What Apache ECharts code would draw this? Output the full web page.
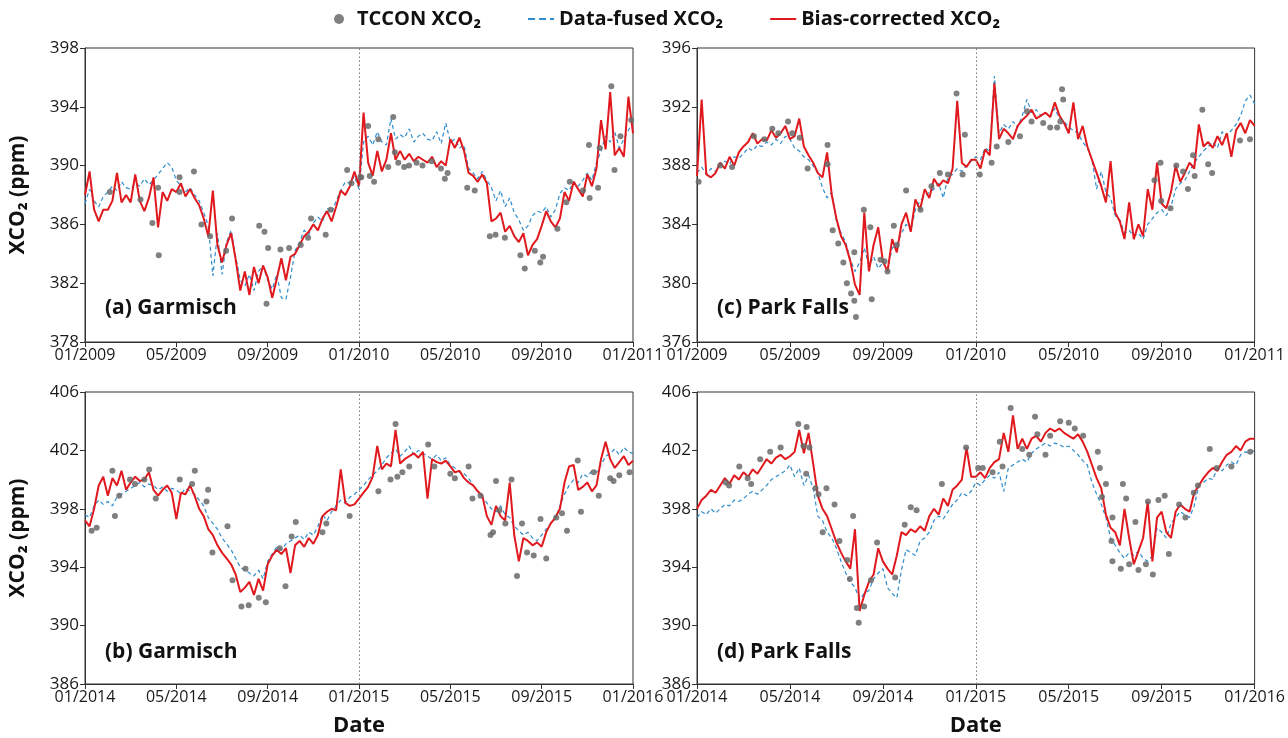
<!DOCTYPE html>
<html>
<head>
<meta charset="utf-8">
<script src="https://cdn.jsdelivr.net/npm/echarts@6/dist/echarts.min.js"></script>
<style>
html,body{margin:0;padding:0;background:#fff;}
#chart{width:1288px;height:738px;}
</style>
</head>
<body>
<div id="chart"></div>
<script>
// ---- Tick labels ----
const xTicksTop = ['01/2009','05/2009','09/2009','01/2010','05/2010','09/2010','01/2011'];
const xTicksBottom = ['01/2014','05/2014','09/2014','01/2015','05/2015','09/2015','01/2016'];
const yTicksA = [378,382,386,390,394,398];
const yTicksC = [376,380,384,388,392,396];
const yTicksBD = [386,390,394,398,402,406];
const monthTicks = [0,4,8,12,16,20,24];
const STEP = 0.2; // months between line samples (~6 days)

// ---- (a) Garmisch 2009-2010 ----
const aBias = [
388.0,389.6,387.0,386.2,387.0, 387.0,387.6,389.5,387.5,388.0, 387.5,389.4,387.6,386.9,387.8,
389.2,385.8,388.2,387.6,388.4, 388.2,388.8,387.9,388.4,387.8, 387.3,386.4,385.2,388.3,384.6,
383.4,384.6,385.4,383.6,381.5, 382.8,381.2,383.1,382.0,383.2, 382.4,381.0,382.3,383.7,382.2,
383.8,384.0,384.6,385.2,385.5, 386.0,385.6,386.4,386.9,386.2, 387.2,388.3,388.0,388.6,389.6,
388.6,393.6,390.2,389.3,391.0, 389.6,390.4,392.2,390.4,391.0, 390.4,390.8,390.3,390.6,390.4,
390.2,390.6,389.9,390.3,390.0, 391.8,391.2,391.9,391.0,389.5, 389.3,388.9,389.4,388.8,386.2,
386.4,386.8,385.5,385.9,385.2, 384.8,385.4,383.9,384.6,385.0, 385.9,386.9,386.2,385.8,386.4,
388.2,387.6,388.9,388.4,387.9, 389.4,388.6,389.8,393.1,391.1, 395.0,390.7,391.2,390.6,394.7,
392.2];
const aFused = [
387.4,388.4,387.6,387.2,387.9, 388.2,388.6,388.3,388.9,388.5, 388.4,388.8,388.6,389.1,388.7,
389.0,389.4,389.8,390.2,389.9, 389.0,388.6,388.2,388.5,388.0, 387.6,386.8,385.9,382.5,385.4,
382.6,384.8,385.6,383.8,382.2, 381.8,382.6,381.5,382.8,383.2, 382.2,381.6,382.6,381.0,380.9,
382.4,384.2,384.8,385.6,385.3, 386.1,386.5,386.2,387.1,386.8, 387.6,388.3,388.9,388.8,389.3,
388.4,391.6,392.0,391.4,392.3, 391.6,391.4,393.2,391.8,392.1, 391.9,392.5,391.6,392.0,392.2,
391.8,391.7,392.3,391.5,392.9, 391.6,391.8,391.2,391.4,389.8, 389.5,389.1,389.6,389.0,388.5,
387.6,388.3,387.2,387.8,386.8, 386.3,385.6,385.9,386.6,386.9, 386.8,387.2,386.5,387.0,388.1,
388.5,388.3,388.9,388.6,389.0, 389.5,389.0,390.2,391.0,392.0, 391.6,392.3,391.2,391.8,392.4,
393.0];
const aTccon = [
[1.09,388.2],[2.43,387.7],[2.95,386.1],[3.23,383.9],[3.2,388.5],[4.14,389.2],[4.14,388.2],[4.77,389.6],
[5.1,386.0],[5.48,385.2],[6.18,384.2],[6.44,386.4],[7.63,385.9],[7.86,385.5],[8.02,384.4],[7.95,380.6],
[8.56,384.3],[8.94,384.4],[9.45,384.6],[9.77,385.1],[9.9,386.4],[10.54,385.3],[10.76,387.0],[11.48,389.7],
[11.67,388.8],[12.06,389.2],[12.1,389.2],[12.4,392.7],[12.47,389.3],[12.66,388.9],[12.85,391.8],[13.28,389.9],
[13.5,393.3],[13.57,390.9],[13.72,390.2],[13.98,389.9],[14.19,390.0],[14.52,390.2],[14.78,390.0],[15.18,390.3],
[15.59,389.8],[15.76,389.1],[15.88,389.5],[16.74,388.5],[17.07,388.3],[17.73,385.2],[17.98,385.3],[18.39,385.1],
[19.07,383.9],[19.26,383.0],[19.7,384.2],[19.94,383.4],[20.06,383.8],[20.69,385.7],[21.08,387.5],[21.23,388.9],
[21.81,388.3],[22.1,387.8],[22.07,391.4],[22.47,388.5],[22.54,391.2],[23.05,395.4],[23.19,389.7],[23.45,392.0],
[23.92,393.1]];

// ---- (c) Park Falls 2009-2010 ----
const cBias = [
387.3,392.5,387.4,387.2,387.5, 388.2,387.8,388.6,388.0,388.9, 389.3,389.6,390.2,389.5,389.8,
389.7,390.4,389.9,390.2,390.7, 389.8,390.0,391.2,389.3,388.7, 388.2,387.5,387.2,388.9,386.0,
384.4,383.2,382.6,381.5,379.9, 379.2,384.8,380.8,382.6,383.8, 381.5,380.8,383.0,382.1,384.0,
384.8,383.5,385.7,385.0,386.4, 385.8,387.1,386.6,387.0,386.8, 387.8,392.4,388.2,387.9,388.4,
388.4,387.8,389.1,388.7,393.6, 389.8,390.5,390.2,389.8,390.7, 391.1,391.4,391.8,391.2,391.4,
391.6,391.3,392.3,391.4,390.9, 390.2,392.3,389.8,390.7,389.3, 388.4,387.5,386.6,385.5,388.3,
384.8,384.2,383.0,385.5,383.0, 384.0,383.2,386.4,385.0,388.2, 385.4,385.1,386.2,388.0,386.9,
387.5,388.2,387.8,390.8,389.3, 389.6,389.2,390.0,389.4,390.2, 388.6,390.4,390.9,390.2,391.1,
390.7];
const cFused = [
387.5,387.9,387.4,387.8,387.6, 388.0,388.3,388.1,388.6,388.5, 388.8,389.2,389.0,389.4,389.3,
389.6,389.4,389.8,389.5,390.0, 389.8,389.2,389.0,388.6,388.4, 388.0,387.5,386.5,385.8,386.2,
384.2,383.4,382.8,381.6,380.8, 381.4,382.4,381.2,381.8,381.0, 381.4,380.9,382.4,382.6,383.4,
384.0,383.6,385.0,385.6,385.9, 386.2,386.4,386.8,385.8,387.2, 387.4,387.8,387.6,388.0,388.3,
388.6,388.4,389.2,389.0,394.1, 390.2,390.8,390.5,391.0,390.6, 391.4,392.5,391.6,391.8,391.4,
391.6,391.3,391.9,391.2,391.0, 390.6,390.4,390.2,389.6,389.2, 388.4,386.4,387.6,386.2,385.8,
384.6,384.3,383.4,383.6,383.2, 383.4,383.0,384.0,384.4,384.8, 385.0,384.6,385.2,386.4,386.8,
387.0,387.6,388.2,388.6,389.0, 389.3,389.6,389.2,390.3,390.0, 390.4,390.8,391.4,392.4,392.8,
392.2];
const cTccon = [
[0.07,386.9],[1.0,388.0],[1.51,387.9],[2.45,390.0],[2.9,389.8],[3.24,390.5],[3.5,390.2],[3.92,391.0],[4.1,390.2],
[4.42,389.9],[4.76,387.8],[5.62,389.4],[5.62,388.1],[5.84,383.6],[6.08,382.7],[6.3,381.4],[6.45,380.0],
[6.77,382.1],[6.63,379.3],[6.77,378.8],[6.84,377.7],[7.18,385.0],[7.52,378.9],[7.46,383.8],[7.9,381.6],
[8.07,381.5],[8.2,380.8],[8.47,383.9],[8.6,382.6],[9.0,386.3],[9.62,385.0],[10.09,386.6],[10.45,387.5],
[10.8,387.4],[11.17,392.9],[11.43,387.4],[11.53,390.1],[12.17,387.4],[12.68,388.2],[12.9,389.3],[13.4,389.6],
[13.9,390.0],[14.2,391.7],[14.4,391.0],[14.9,390.9],[15.2,390.6],[15.5,390.6],[15.71,393.2],[15.76,392.5],
[15.64,391.0],[19.69,387.0],[19.95,388.2],[19.98,385.6],[20.38,385.1],[20.63,388.0],[20.92,387.6],[21.13,386.4],
[21.35,388.7],[21.42,387.3],[21.75,391.8],[22.0,388.1],[22.17,387.5],[23.37,389.7],[23.8,389.8]];

// ---- (b) Garmisch 2014-2015 ----
const bBias = [
397.2,396.8,398.0,399.6,400.2, 398.9,400.1,399.6,400.6,399.3, 399.8,400.2,399.9,400.0,400.5,
399.3,398.9,399.3,399.6,399.1, 397.3,399.1,399.0,399.6,398.9, 398.0,397.5,396.6,396.2,395.5,
395.0,394.6,394.2,393.5,392.3, 392.6,393.0,392.1,393.2,392.4, 394.2,394.8,395.2,394.9,395.3,
393.6,395.5,395.8,395.4,396.0, 395.6,396.2,397.5,397.8,398.0, 397.9,400.7,398.4,398.2,398.3,
398.7,399.1,399.5,400.2,402.3, 400.7,401.1,400.9,403.4,401.1, 401.4,401.6,401.8,401.5,401.9,
398.7,401.4,401.2,401.1,401.3, 400.9,400.5,400.6,400.1,399.8, 399.6,399.2,398.9,397.5,396.9,
398.2,397.5,397.2,399.8,396.2, 394.4,396.0,395.8,395.5,395.7, 395.4,396.4,397.0,397.4,398.0,
399.8,400.9,401.0,399.3,399.5, 399.8,399.2,399.6,401.4,402.6, 401.4,400.8,401.2,401.6,401.0,
401.3];
const bFused = [
397.6,397.4,398.2,398.6,398.3, 398.5,398.2,398.8,399.0,399.2, 399.4,399.6,399.8,399.5,399.7,
399.6,399.3,399.5,399.2,399.4, 399.3,399.0,399.4,399.2,399.0, 398.6,398.2,397.4,397.0,396.6,
396.0,395.6,395.2,394.6,394.0, 393.8,393.6,393.4,393.8,393.2, 394.4,394.9,395.4,395.2,395.6,
395.8,396.0,396.2,395.9,396.4, 396.2,396.8,397.6,397.2,397.8, 398.2,398.6,398.4,398.8,399.0,
399.3,399.6,400.0,400.3,400.6, 401.0,401.5,401.8,402.1,401.6, 401.9,402.3,401.7,402.0,401.8,
401.6,401.4,401.7,401.3,401.5, 401.0,400.8,400.5,400.4,400.1, 399.6,399.2,398.8,398.4,398.0,
397.8,398.2,397.6,397.4,396.8, 396.5,396.2,396.4,396.0,395.8, 396.2,396.6,397.0,397.3,398.2,
399.0,399.6,400.0,399.8,400.4, 400.2,400.6,400.5,401.0,401.6, 401.8,402.1,401.7,402.2,401.9,
401.8];
const bTccon = [
[0.29,396.5],[0.51,396.7],[1.2,400.6],[1.31,397.5],[1.5,398.9],[1.97,400.0],[2.19,399.7],[2.6,400.0],
[2.81,400.7],[3.1,398.7],[4.15,400.0],[4.81,400.6],[4.69,399.7],[5.39,399.3],[5.32,398.5],[6.24,396.8],
[5.58,395.0],[6.46,393.1],[7.03,393.9],[6.85,391.3],[7.17,391.4],[7.61,391.9],[7.92,391.6],[8.53,395.3],
[8.78,392.7],[9.05,396.1],[9.23,397.1],[10.4,396.4],[10.57,397.0],[11.59,397.5],[12.85,399.2],[13.38,400.0],
[13.6,403.8],[13.68,400.2],[13.9,400.5],[14.2,400.9],[15.03,402.4],[15.3,400.9],[16.0,400.4],[16.2,400.1],
[16.8,400.9],[16.97,398.7],[17.32,398.9],[17.76,396.2],[17.87,396.4],[18.0,399.9],[18.15,397.9],[18.41,397.0],
[18.68,400.0],[18.92,393.4],[19.14,397.0],[19.36,395.0],[19.65,394.8],[19.95,397.3],[20.2,394.6],[20.64,397.4],
[20.89,397.7],[21.11,396.5],[21.58,401.3],[21.72,397.8],[22.28,400.5],[22.5,398.9],[23.0,400.1],[23.15,399.9],
[23.4,400.3],[23.85,400.5]];

// ---- (d) Park Falls 2014-2015 ----
const dBias = [
398.0,398.6,398.9,399.3,399.1, 399.6,400.1,399.7,400.3,400.0, 400.5,400.2,400.7,400.4,400.9,
401.4,401.1,401.5,401.7,401.4, 401.6,401.9,403.4,401.8,403.2, 401.1,398.9,398.0,397.5,396.6,
395.7,395.0,394.4,393.9,396.6, 391.0,392.1,393.0,393.5,395.3, 394.4,393.9,393.5,394.8,396.4,
396.2,396.6,396.4,396.8,396.5, 397.5,398.0,397.6,398.7,398.2, 399.3,399.6,400.0,402.2,400.2,
400.2,400.5,400.1,400.8,401.2, 401.4,403.2,401.9,404.4,402.1, 402.8,402.1,402.8,403.0,402.6,
403.2,403.5,403.3,403.5,403.2, 403.0,402.8,403.1,402.6,401.9, 401.0,400.1,399.4,397.6,396.7,
396.4,395.5,398.0,396.0,394.2, 395.1,396.0,398.5,394.4,397.4, 397.8,396.4,396.0,397.8,398.3,
398.0,397.8,399.1,399.6,400.1, 400.5,400.8,400.6,401.2,401.7, 401.9,402.3,402.0,402.6,402.8,
402.8];
const dFused = [
397.4,397.8,397.6,398.0,397.7, 398.0,398.3,398.2,398.6,398.5, 398.7,399.0,399.2,399.0,399.3,
399.6,400.0,400.2,400.4,400.6, 401.0,400.2,400.8,399.6,400.3, 399.4,397.5,397.2,396.4,396.0,
395.3,394.4,393.6,393.0,392.6, 391.8,392.2,392.4,393.2,393.6, 393.9,392.6,392.2,391.9,393.8,
395.2,395.0,394.8,395.8,396.0, 396.4,397.2,397.5,397.3,397.8, 398.3,398.6,399.1,398.9,399.2,
399.8,399.6,400.0,400.3,400.1, 400.5,399.2,400.8,401.0,401.2, 401.4,401.2,401.8,402.1,402.3,
402.5,402.3,402.5,402.4,402.2, 402.3,402.0,401.7,401.3,401.0, 399.8,399.0,398.3,397.4,396.0,
395.5,395.0,394.6,395.0,394.8, 395.1,394.6,394.4,394.8,396.7, 396.4,396.0,397.0,397.4,397.8,
397.6,397.4,398.2,399.6,399.8, 400.1,400.0,400.8,400.6,401.0, 401.2,401.0,401.7,401.9,401.8,
402.0];
const dTccon = [
[1.24,399.8],[1.38,399.6],[1.82,400.9],[2.18,400.1],[2.33,399.7],[2.72,401.4],[3.15,401.9],[3.6,402.2],
[4.36,403.8],[4.72,403.6],[4.58,402.3],[4.84,402.2],[4.7,400.4],[5.1,399.4],[5.23,399.0],[5.57,399.4],
[5.41,396.4],[5.92,398.3],[6.13,395.8],[6.47,394.5],[6.72,397.5],[6.58,393.2],[6.88,391.2],[6.96,390.2],
[7.19,391.3],[7.49,393.1],[7.75,395.7],[8.53,393.3],[8.94,396.9],[9.2,398.1],[9.45,397.9],[10.54,399.7],
[11.58,402.2],[12.1,400.8],[12.3,400.8],[12.72,400.5],[13.03,402.6],[13.15,400.9],[13.5,404.9],[14.0,402.1],
[14.3,401.7],[14.55,404.3],[14.65,403.1],[15.0,401.7],[15.2,403.0],[15.63,404.0],[16.0,403.9],[16.26,403.5],
[16.62,403.0],[17.25,401.9],[17.34,400.8],[17.43,398.8],[17.6,399.7],[17.88,397.4],[17.84,395.8],[17.88,394.4],
[18.33,399.7],[18.47,398.7],[18.24,393.9],[18.6,394.2],[18.87,397.1],[19.0,393.8],[19.32,394.2],[19.41,398.5],
[19.62,393.5],[19.86,398.6],[20.13,398.9],[20.31,394.9],[20.75,398.3],[21.02,397.4],[21.38,399.1],[21.56,399.6],
[22.07,402.1],[22.37,400.8],[23.0,400.9],[23.81,401.9]];

const panelLabels = ['(a) Garmisch','(c) Park Falls','(b) Garmisch','(d) Park Falls'];
const NAME_T = 'TCCON XCO\u2082';
const NAME_F = 'Data-fused XCO\u2082';
const NAME_B = 'Bias-corrected XCO\u2082';

const FONT = '"Open Sans", "Noto Sans", sans-serif';
const panels = [
  {grid:{left:85,top:48,width:548,height:294}, yMin:378,yMax:398,yTicks:yTicksA,xTicks:xTicksTop,bias:aBias,fused:aFused,tccon:aTccon,yName:true,xName:false,label:panelLabels[0]},
  {grid:{left:697,top:48,width:558,height:294}, yMin:376,yMax:396,yTicks:yTicksC,xTicks:xTicksTop,bias:cBias,fused:cFused,tccon:cTccon,yName:false,xName:false,label:panelLabels[1]},
  {grid:{left:85,top:392,width:548,height:294}, yMin:386,yMax:406,yTicks:yTicksBD,xTicks:xTicksBottom,bias:bBias,fused:bFused,tccon:bTccon,yName:true,xName:true,label:panelLabels[2]},
  {grid:{left:697,top:392,width:558,height:294}, yMin:386,yMax:406,yTicks:yTicksBD,xTicks:xTicksBottom,bias:dBias,fused:dFused,tccon:dTccon,yName:false,xName:true,label:panelLabels[3]}
];

function toLine(vals){ return vals.map((v,i)=>[Math.round(i*STEP*100)/100, v]); }

const grids=[], xAxes=[], yAxes=[], series=[], graphics=[];
panels.forEach((p,k)=>{
  grids.push(Object.assign({show:true,borderColor:'#333',borderWidth:1,backgroundColor:'#fff'},p.grid));
  xAxes.push({
    type:'value', gridIndex:k, min:0, max:24, interval:4,
    axisLine:{show:true,onZero:false,lineStyle:{color:'#333',width:1}},
    axisTick:{show:true,length:5,customValues:monthTicks,lineStyle:{color:'#333'}},
    axisLabel:{customValues:monthTicks,color:'#1a1a1a',fontSize:16,fontFamily:FONT,margin:5,
      formatter:(v)=>p.xTicks[Math.round(v/4)]},
    splitLine:{show:false},
    name:p.xName?'Date':'', nameLocation:'middle', nameGap:31,
    nameTextStyle:{fontSize:22,fontWeight:'bold',color:'#111',fontFamily:FONT}
  });
  yAxes.push({
    type:'value', gridIndex:k, min:p.yMin, max:p.yMax,
    axisLine:{show:true,onZero:false,lineStyle:{color:'#333',width:1}},
    axisTick:{show:true,length:5,customValues:p.yTicks,lineStyle:{color:'#333'}},
    axisLabel:{customValues:p.yTicks,color:'#1a1a1a',fontSize:17,fontFamily:FONT,margin:6},
    splitLine:{show:false},
    name:p.yName?'XCO\u2082 (ppm)':'', nameLocation:'middle', nameGap:56, nameRotate:90,
    nameTextStyle:{fontSize:21,fontWeight:'bold',color:'#111',fontFamily:FONT}
  });
  series.push({
    name:NAME_F, type:'line', xAxisIndex:k, yAxisIndex:k, data:toLine(p.fused),
    symbol:'none', color:'#2f8ccc', lineStyle:{width:1.2,type:[4,3],color:'#2f8ccc'}, z:2,
    markLine:{silent:true,symbol:'none',label:{show:false},
      lineStyle:{type:[1.5,2.5],color:'#777',width:1},data:[{xAxis:12}]}
  });
  series.push({
    name:NAME_B, type:'line', xAxisIndex:k, yAxisIndex:k, data:toLine(p.bias),
    symbol:'none', color:'#e0191e', lineStyle:{width:2,color:'#e0191e'}, z:3
  });
  series.push({
    name:NAME_T, type:'scatter', xAxisIndex:k, yAxisIndex:k, data:p.tccon,
    symbol:'circle', symbolSize:6, color:'#6a6a6a', itemStyle:{color:'#6a6a6a',opacity:0.85}, z:4
  });
  graphics.push({type:'text', left:p.grid.left+20, top:p.grid.top+p.grid.height-44,
    style:{text:p.label, font:'bold 21px '+FONT, fill:'#111'}, z:10});
});

const chart = echarts.init(document.getElementById('chart'), null, {renderer:'canvas'});
chart.setOption({
  animation:false,
  backgroundColor:'#fff',
  textStyle:{fontFamily:FONT},
  legend:{
    top:4, left:329, itemGap:46, itemWidth:26, itemHeight:10,
    textStyle:{fontSize:20,fontWeight:'bold',color:'#111',fontFamily:FONT},
    data:[
      {name:NAME_T,icon:'circle'},
      {name:NAME_F,itemStyle:{opacity:0},lineStyle:{type:[7,4]}},
      {name:NAME_B,itemStyle:{opacity:0}}
    ]
  },
  grid:grids, xAxis:xAxes, yAxis:yAxes, series:series, graphic:graphics
});
</script>
</body>
</html>
